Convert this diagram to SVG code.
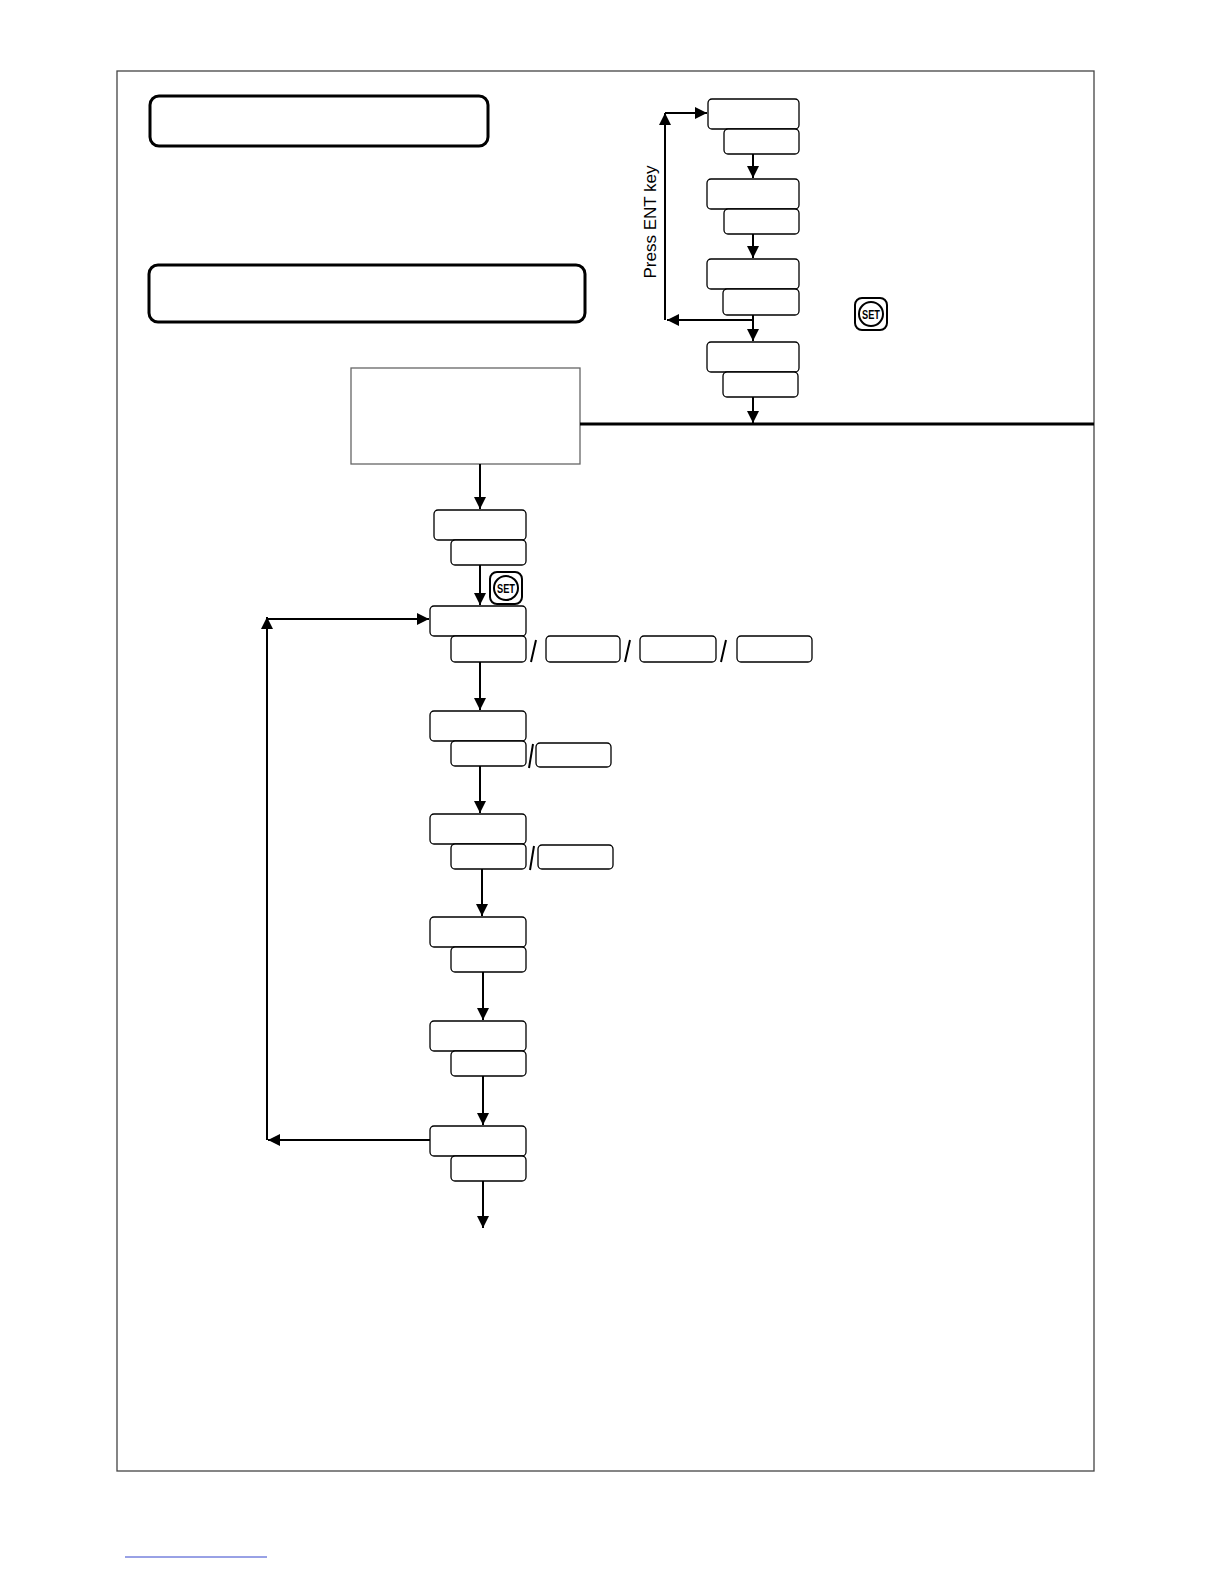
<svg xmlns="http://www.w3.org/2000/svg" width="1224" height="1584" viewBox="0 0 1224 1584">
<style>
.b{fill:#fff;stroke:#000;stroke-width:1.3}
.t{fill:#fff;stroke:#000;stroke-width:3}
.c{stroke:#000;stroke-width:2;fill:none}
.s{fill:none;stroke:#000;stroke-width:2}
</style>
<defs>
<marker id="a" viewBox="0 0 10 10" refX="10" refY="5" markerWidth="6" markerHeight="6" orient="auto"><path d="M0,0L10,5L0,10z" fill="#000"/></marker>
<g id="set"><rect x="0" y="0" width="32" height="32" rx="7" fill="#fff" stroke="#000" stroke-width="2"/><circle cx="16" cy="16" r="12" fill="none" stroke="#000" stroke-width="2"/><text x="16" y="21" font-family="Liberation Sans, sans-serif" font-weight="bold" font-size="12" text-anchor="middle" textLength="18" lengthAdjust="spacingAndGlyphs">SET</text></g>
</defs>
<rect x="0" y="0" width="1224" height="1584" fill="#fff"/>
<rect x="117" y="71" width="977" height="1400" fill="none" stroke="#444" stroke-width="1.3"/>
<line x1="125" y1="1557" x2="267" y2="1557" stroke="#3344cc" stroke-width="1"/>
<g id="title1"><rect class="t" x="150" y="96" width="338" height="50" rx="9"/></g>
<g id="title2"><rect class="t" x="149" y="265" width="436" height="57" rx="9"/></g>
<g id="t1"><rect class="b" x="708" y="99" width="91" height="30" rx="4"/><rect class="b" x="724" y="129" width="75" height="25" rx="4"/></g>
<g id="t2"><rect class="b" x="707" y="179" width="92" height="30" rx="4"/><rect class="b" x="724" y="209" width="75" height="25" rx="4"/></g>
<g id="t3"><rect class="b" x="707" y="259" width="92" height="30" rx="4"/><rect class="b" x="723" y="289" width="76" height="26" rx="4"/></g>
<g id="t4"><rect class="b" x="707" y="342" width="92" height="30" rx="4"/><rect class="b" x="723" y="372" width="75" height="25" rx="4"/></g>
<text transform="translate(656,222) rotate(-90)" font-family="Liberation Sans, sans-serif" font-size="17" text-anchor="middle">Press ENT key</text>
<use href="#set" x="855" y="298"/>
<g id="main"><rect x="351" y="368" width="229" height="96" fill="#fff" stroke="#666" stroke-width="1.3"/></g>
<g id="nA"><rect class="b" x="434" y="510" width="92" height="30" rx="4"/><rect class="b" x="451" y="540" width="75" height="25" rx="4"/></g>
<use href="#set" x="490" y="572"/>
<g id="nB"><rect class="b" x="430" y="606" width="96" height="30" rx="4"/><rect class="b" x="451" y="636" width="75" height="26" rx="4"/>
<rect class="b" x="546" y="636" width="74" height="26" rx="4"/><rect class="b" x="640" y="636" width="76" height="26" rx="4"/><rect class="b" x="737" y="636" width="75" height="26" rx="4"/>
<path class="s" d="M536,640L531,662M630,640L625,662M726,640L721,662"/></g>
<g id="nC"><rect class="b" x="430" y="711" width="96" height="30" rx="4"/><rect class="b" x="451" y="741" width="75" height="25" rx="4"/><rect class="b" x="536" y="743" width="75" height="24" rx="4"/><path class="s" stroke-width="1.3" d="M533,744L529,768"/></g>
<g id="nD"><rect class="b" x="430" y="814" width="96" height="30" rx="4"/><rect class="b" x="451" y="844" width="75" height="25" rx="4"/><rect class="b" x="538" y="845" width="75" height="24" rx="4"/><path class="s" stroke-width="1.3" d="M534,846L530,870"/></g>
<g id="nE"><rect class="b" x="430" y="917" width="96" height="30" rx="4"/><rect class="b" x="451" y="947" width="75" height="25" rx="4"/></g>
<g id="nF"><rect class="b" x="430" y="1021" width="96" height="30" rx="4"/><rect class="b" x="451" y="1051" width="75" height="25" rx="4"/></g>
<g id="nG"><rect class="b" x="430" y="1126" width="96" height="30" rx="4"/><rect class="b" x="451" y="1156" width="75" height="25" rx="4"/></g>
<g id="connectors">
<line class="c" x1="753" y1="154" x2="753" y2="178" marker-end="url(#a)"/>
<line class="c" x1="753" y1="234" x2="753" y2="258" marker-end="url(#a)"/>
<line class="c" x1="753" y1="315" x2="753" y2="341" marker-end="url(#a)"/>
<line class="c" x1="753" y1="397" x2="753" y2="423" marker-end="url(#a)"/>
<line class="c" x1="753" y1="320" x2="667" y2="320" marker-end="url(#a)"/>
<polyline class="c" points="665,320 665,113" marker-end="url(#a)"/>
<line class="c" x1="665" y1="113" x2="707" y2="113" marker-end="url(#a)"/>
<line x1="580" y1="424" x2="1094" y2="424" stroke="#000" stroke-width="3"/>
<line class="c" x1="480" y1="464" x2="480" y2="509" marker-end="url(#a)"/>
<line class="c" x1="480" y1="565" x2="480" y2="605" marker-end="url(#a)"/>
<line class="c" x1="480" y1="662" x2="480" y2="710" marker-end="url(#a)"/>
<line class="c" x1="480" y1="766" x2="480" y2="813" marker-end="url(#a)"/>
<line class="c" x1="482" y1="869" x2="482" y2="916" marker-end="url(#a)"/>
<line class="c" x1="483" y1="972" x2="483" y2="1020" marker-end="url(#a)"/>
<line class="c" x1="483" y1="1076" x2="483" y2="1125" marker-end="url(#a)"/>
<line class="c" x1="483" y1="1181" x2="483" y2="1228" marker-end="url(#a)"/>
<line class="c" x1="430" y1="1140" x2="268" y2="1140" marker-end="url(#a)"/>
<line class="c" x1="267" y1="1140" x2="267" y2="617" marker-end="url(#a)"/>
<line class="c" x1="267" y1="619" x2="429" y2="619" marker-end="url(#a)"/>
</g>
</svg>
